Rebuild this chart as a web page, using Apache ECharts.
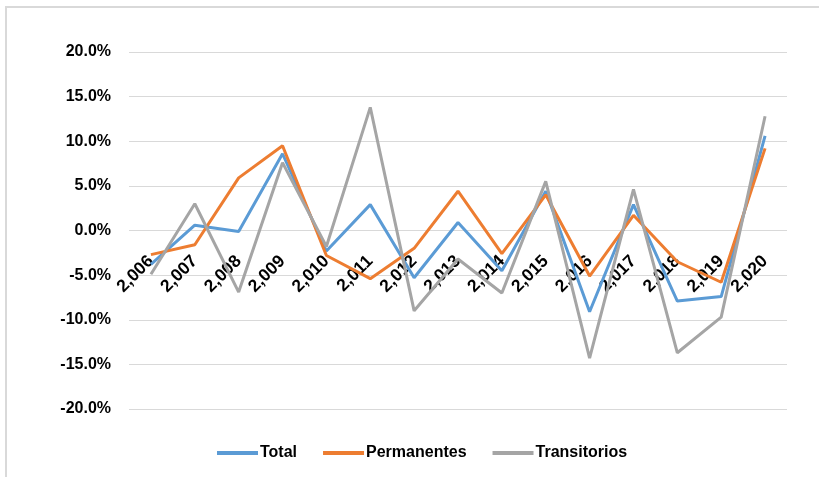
<!DOCTYPE html>
<html>
<head>
<meta charset="utf-8">
<script src="https://cdn.jsdelivr.net/npm/echarts@6/dist/echarts.min.js"></script>
<style>
  html, body { margin: 0; padding: 0; background: #fff; }
  #chart { width: 819px; height: 477px; }
</style>
</head>
<body>
<div id="chart"></div>
<script>
// Year-over-year variation (%) by contract type
const years = ['2,006', '2,007', '2,008', '2,009', '2,010', '2,011', '2,012', '2,013',
               '2,014', '2,015', '2,016', '2,017', '2,018', '2,019', '2,020'];
const total        = [-3.8, 0.6, -0.1, 8.6, -2.3, 2.9, -5.3, 0.9, -4.5, 4.4, -9.1, 2.9, -7.9, -7.4, 10.6];
const permanentes  = [-2.7, -1.6, 5.9, 9.5, -2.8, -5.4, -2.0, 4.4, -2.6, 4.0, -5.1, 1.7, -3.5, -5.8, 9.2];
const transitorios = [-4.9, 3.0, -6.9, 7.6, -1.8, 13.8, -9.0, -3.2, -7.0, 5.5, -14.3, 4.6, -13.7, -9.7, 12.8];
const yTicks = { min: -20, max: 20, step: 5 };

const FONT = '"Liberation Sans", Arial, sans-serif';
const GRID = { left: 129, right: 32, top: 52, bottom: 68 };
const chart = echarts.init(document.getElementById('chart'), null, { renderer: 'canvas' });

// the category axis sits on the 0% line: shift it up from the plot bottom
const plotH = 477 - GRID.top - GRID.bottom;
const zeroShift = plotH * (0 - yTicks.min) / (yTicks.max - yTicks.min);

function line(name, data, color) {
  return {
    name, type: 'line', data,
    symbol: 'none',
    lineStyle: { width: 3, color },
    itemStyle: { color },
    animation: false
  };
}

chart.setOption({
  backgroundColor: '#fff',
  animation: false,
  graphic: [
    { type: 'line', shape: { x1: 5, y1: 7, x2: 819, y2: 7 }, style: { stroke: '#d9d9d9', lineWidth: 2 } },
    { type: 'line', shape: { x1: 6, y1: 7, x2: 6, y2: 477 }, style: { stroke: '#d9d9d9', lineWidth: 2 } }
  ],
  grid: Object.assign({ containLabel: false }, GRID),
  legend: {
    left: 212, top: 440,
    icon: 'rect', itemWidth: 41, itemHeight: 4, itemGap: 26,
    textStyle: { fontFamily: FONT, fontWeight: 'bold', fontSize: 16, color: '#000', padding: [0, 0, 0, -3] },
    data: ['Total', 'Permanentes', 'Transitorios']
  },
  xAxis: {
    type: 'category',
    data: years,
    boundaryGap: true,
    offset: -zeroShift,
    axisLine: { onZero: false, show: false },
    axisTick: { show: false },
    axisLabel: {
      rotate: 45, margin: 28, interval: 0,
      fontFamily: FONT, fontWeight: 'bold', fontSize: 17.5, color: '#000'
    }
  },
  yAxis: {
    type: 'value',
    min: yTicks.min, max: yTicks.max, interval: yTicks.step,
    axisLine: { show: false },
    axisTick: { show: false },
    splitLine: { lineStyle: { color: '#d9d9d9', width: 1 } },
    axisLabel: {
      margin: 18,
      fontFamily: FONT, fontWeight: 'bold', fontSize: 16, color: '#000',
      formatter: v => v.toFixed(1) + '%'
    }
  },
  series: [
    line('Total', total, '#5b9bd5'),
    line('Permanentes', permanentes, '#ed7d31'),
    line('Transitorios', transitorios, '#a5a5a5')
  ]
});
</script>
</body>
</html>
